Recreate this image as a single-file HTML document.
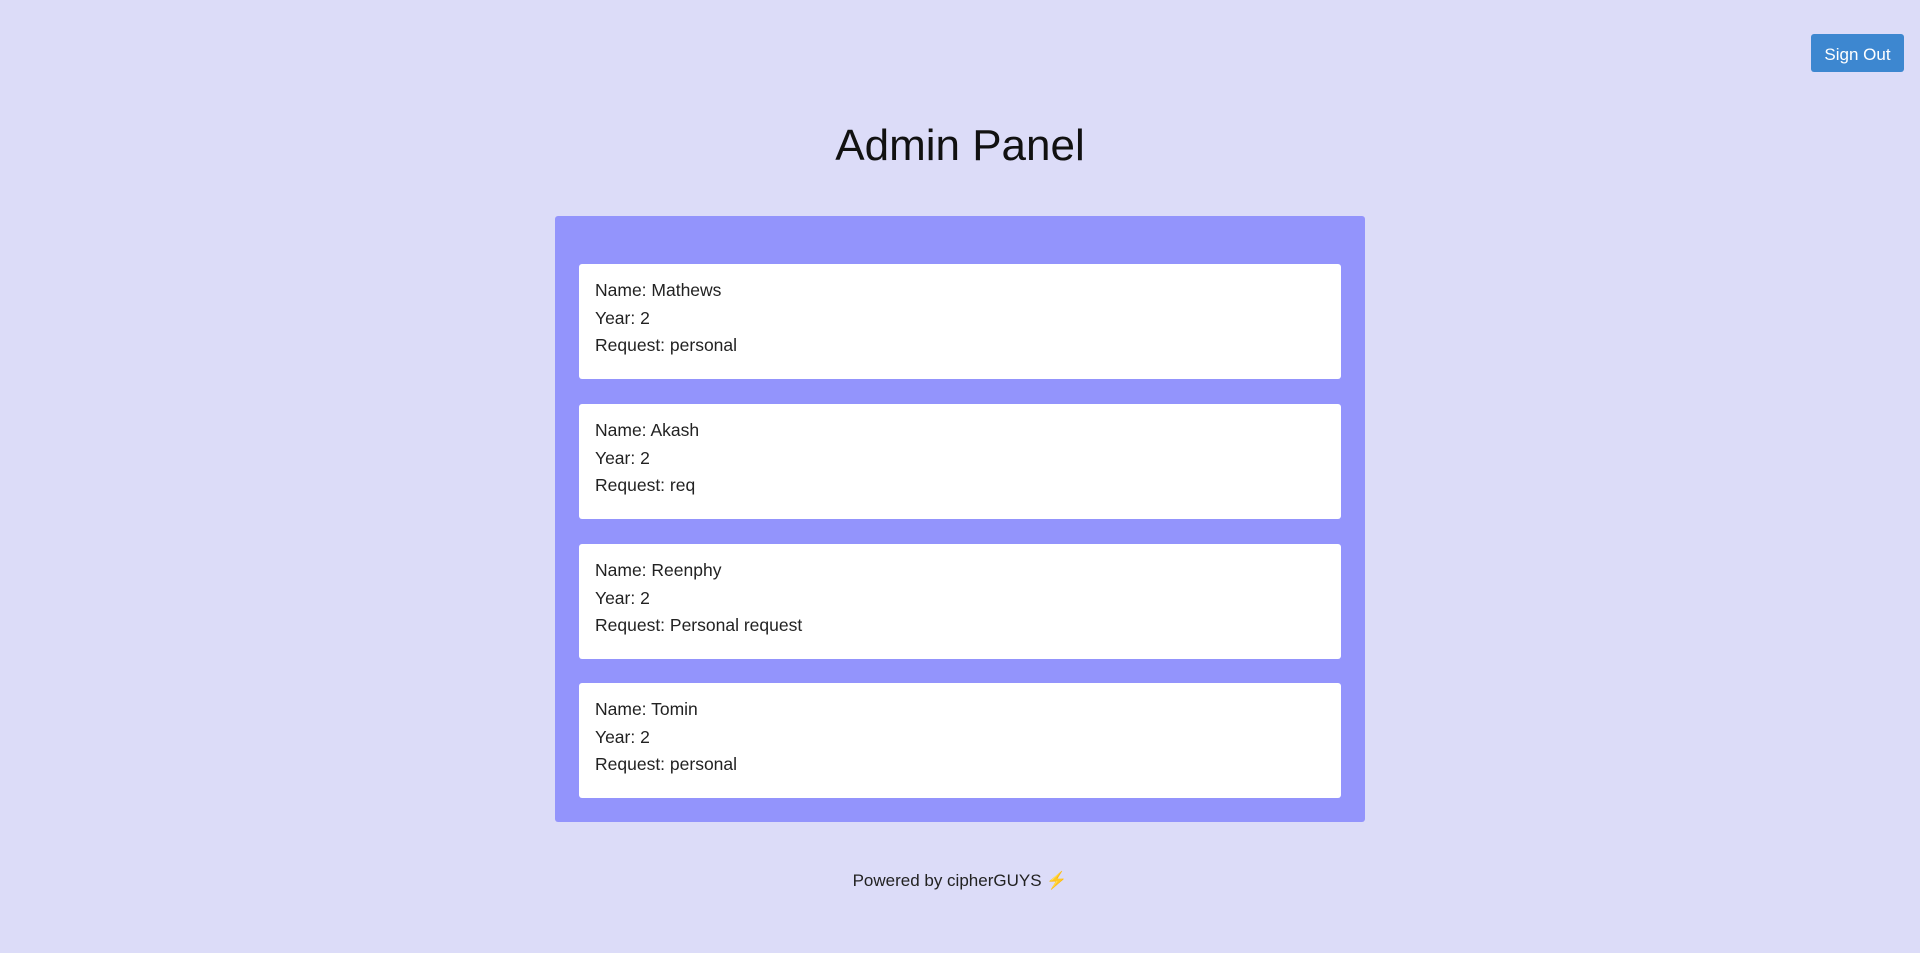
<!DOCTYPE html>
<html><head><meta charset="utf-8"><style>
html,body{margin:0;padding:0}
body{width:1920px;height:953px;background:#dcdcf8;font-family:"Liberation Sans",sans-serif;position:relative;overflow:hidden;color:#222}
.btn{position:absolute;left:1811px;top:34px;width:93px;height:38px;background:#3d87d0;color:#fff;border-radius:3px;font-size:17px;line-height:41px;text-align:center}
h1{position:absolute;left:0;width:1920px;top:121px;margin:0;text-align:center;font-weight:normal;font-size:44px;color:#111}
.panel{position:absolute;left:555px;top:216px;width:810px;height:606px;background:#9394fc;border-radius:3px}
.card{position:absolute;left:24px;width:762px;height:115px;background:#fff;border-radius:3px;box-sizing:border-box;padding:13px 16px;font-size:17.5px;line-height:27.5px;color:#222}
.foot{position:absolute;left:0;width:1920px;top:871px;text-align:center;font-size:17px;color:#222}
</style></head><body>
<div class="btn">Sign Out</div>
<h1>Admin Panel</h1>
<div class="panel">
<div class="card" style="top:48px">Name: Mathews<br>Year: 2<br>Request: personal</div>
<div class="card" style="top:188px">Name: Akash<br>Year: 2<br>Request: req</div>
<div class="card" style="top:328px">Name: Reenphy<br>Year: 2<br>Request: Personal request</div>
<div class="card" style="top:467px">Name: Tomin<br>Year: 2<br>Request: personal</div>
</div>
<div class="foot">Powered by cipherGUYS <span style="color:#f0a500">⚡</span></div>
</body></html>
